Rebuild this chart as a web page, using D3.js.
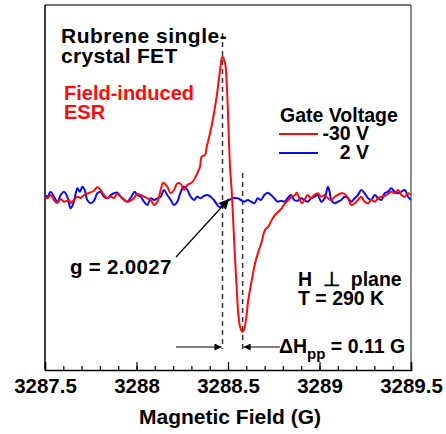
<!DOCTYPE html>
<html><head><meta charset="utf-8">
<script src="https://cdn.jsdelivr.net/npm/d3@7/dist/d3.min.js"></script>
<style>
body{margin:0;background:#fff;}
text{font-family:"Liberation Sans",Arial,sans-serif;font-weight:bold;white-space:pre;}
</style></head>
<body><svg id="c" width="446" height="434"></svg>
<script>
// ---- data ----
const xDomain = [3287.5, 3289.5];
const xMajorTicks = [3287.5, 3288, 3288.5, 3289, 3289.5];
const xTickLabels = ["3287.5", "3288", "3288.5", "3289", "3289.5"];
const xMinorTicks = d3.range(0, 21).map(i => 3287.5 + i * 0.1);
const gPosition = 3288.47;   // field of the positive peak (g = 2.0027)
const minPosition = 3288.58; // field of the negative peak

const redField = [3287.500,3287.513,3287.531,3287.549,3287.567,3287.586,3287.604,3287.631,3287.640,3287.658,3287.677,3287.695,3287.713,3287.740,3287.768,3287.786,3287.804,3287.822,3287.840,3287.859,3287.877,3287.895,3287.914,3287.932,3287.950,3287.968,3287.986,3288.004,3288.023,3288.041,3288.059,3288.078,3288.096,3288.114,3288.132,3288.146,3288.168,3288.187,3288.205,3288.223,3288.242,3288.260,3288.278,3288.296,3288.314,3288.332,3288.347,3288.356,3288.374,3288.384,3288.402,3288.420,3288.438,3288.452,3288.466,3288.470,3288.484,3288.493,3288.502,3288.511,3288.520,3288.529,3288.538,3288.548,3288.556,3288.566,3288.578,3288.587,3288.598,3288.611,3288.630,3288.648,3288.666,3288.684,3288.702,3288.720,3288.739,3288.757,3288.775,3288.793,3288.811,3288.830,3288.848,3288.866,3288.875,3288.890,3288.904,3288.917,3288.936,3288.954,3288.972,3288.990,3289.010,3289.028,3289.046,3289.064,3289.083,3289.101,3289.119,3289.138,3289.156,3289.174,3289.192,3289.210,3289.228,3289.247,3289.265,3289.283,3289.302,3289.320,3289.338,3289.356,3289.374,3289.392,3289.411,3289.429,3289.447,3289.466,3289.484,3289.500];
const redSignal = [1,-0.3,3,-2,-5,-1,-3.7,-2,-5,-2,1.3,0,3,5,7.3,10.7,8,3,0,1.3,0,4,1.3,-1.3,-3.7,-2.7,-0.3,4,3,1.3,-0.3,-2,-7,-3.7,8,15.3,11.3,4.7,8,14.7,14,8,13,14.7,18,24.7,31.3,41.3,43,51.3,64.7,81.3,101.3,121.3,139.7,141.3,134.7,114.7,74.7,31.3,8,-25,-58.7,-92,-115.3,-128.7,-133.7,-132,-122,-102,-82,-65.3,-53.7,-43.7,-32,-28.7,-22,-17,-13.7,-10.3,-5.3,-2,1.3,3,5.3,-0.3,-5.3,-2,3,-0.3,3,4.7,1.3,3,-0.3,-2,1.3,3,4.7,4,-0.3,-7,-5.3,-2,1.3,-3.7,-5.3,-2,-3.7,-0.3,1.3,2,4,6.3,4.7,8,3,1.3,4.7,3];

const blueField = [3287.500,3287.513,3287.531,3287.549,3287.567,3287.586,3287.604,3287.622,3287.640,3287.655,3287.668,3287.677,3287.691,3287.704,3287.717,3287.731,3287.750,3287.768,3287.786,3287.804,3287.822,3287.840,3287.859,3287.877,3287.895,3287.914,3287.932,3287.950,3287.972,3287.990,3288.004,3288.023,3288.041,3288.059,3288.078,3288.096,3288.114,3288.132,3288.150,3288.168,3288.187,3288.205,3288.223,3288.242,3288.260,3288.278,3288.296,3288.314,3288.332,3288.351,3288.369,3288.387,3288.405,3288.423,3288.442,3288.456,3288.473,3288.489,3288.507,3288.526,3288.553,3288.571,3288.589,3288.608,3288.626,3288.644,3288.662,3288.680,3288.698,3288.717,3288.735,3288.753,3288.772,3288.790,3288.808,3288.826,3288.844,3288.862,3288.881,3288.899,3288.917,3288.936,3288.954,3288.972,3288.990,3289.010,3289.028,3289.046,3289.055,3289.064,3289.083,3289.101,3289.119,3289.138,3289.156,3289.174,3289.192,3289.210,3289.228,3289.247,3289.265,3289.283,3289.302,3289.320,3289.338,3289.356,3289.374,3289.392,3289.411,3289.429,3289.447,3289.466,3289.484,3289.500];
const blueSignal = [3,1.3,6.3,1.3,-3.7,3,6.3,1.3,-10.3,-5.3,4.7,9.7,6.3,11.3,8,-2,-5.3,-2.7,4.7,6.3,1.3,-0.3,3,4.7,5.3,1.3,-2,-3.7,1.3,6.3,3,1.3,-3.7,-7,-0.3,-2,-0.3,1.3,8,3,-2,-7,-3.7,6.3,11.3,8,1.3,-2,1.3,-0.3,2,3,1.3,-2,-7,-9,-8,-3.7,-2,-0.3,-0.3,-2,-3.7,-2,-3.7,-5.3,-0.3,-2,3,5.3,3,-0.3,-3.7,-2.7,-3.7,-0.3,3,-2,-2.7,-0.3,-2,-3.7,-0.3,1.3,3,-3.7,-0.3,11.3,6.3,-2,-5.3,-3.7,-2,1.3,-0.3,-3.7,-0.3,3,8,4.7,-0.3,-2,3,-0.3,-2,4.7,6.3,9.7,6.3,4.7,6.3,8,1.3,-2];

const yDomain = [-172, 193]; // arbitrary ESR derivative intensity

// ---- layout ----
const svg = d3.select("#c");
const L = 45, R = 411, T = 5, B = 370;
const x = d3.scaleLinear().domain(xDomain).range([L, R]);
const y = d3.scaleLinear().domain(yDomain).range([B, T]);

const defs = svg.append("defs");
defs.append("marker").attr("id","ah").attr("viewBox","0 0 10 10").attr("refX",10).attr("refY",5)
  .attr("markerWidth",10).attr("markerHeight",7).attr("markerUnits","userSpaceOnUse").attr("orient","auto")
  .append("path").attr("d","M0,0 L10,5 L0,10 Z").attr("fill","#000");
defs.append("marker").attr("id","ahBig").attr("viewBox","0 0 10 10").attr("refX",10).attr("refY",5)
  .attr("markerWidth",16).attr("markerHeight",10).attr("markerUnits","userSpaceOnUse").attr("orient","auto")
  .append("path").attr("d","M0,0 L10,5 L0,10 Z").attr("fill","#000");
defs.append("clipPath").attr("id","clip").append("rect").attr("x",L).attr("y",T).attr("width",R-L).attr("height",B-T);

// frame
svg.append("line").attr("x1",L).attr("x2",R).attr("y1",T).attr("y2",T).attr("stroke","#444").attr("stroke-width",1.5);
svg.append("line").attr("x1",R).attr("x2",R).attr("y1",T).attr("y2",B).attr("stroke","#666").attr("stroke-width",1.5);
svg.append("line").attr("x1",L).attr("x2",L).attr("y1",T).attr("y2",B).attr("stroke","#000").attr("stroke-width",1.5);

// x axis
const ax = svg.append("g").attr("transform",`translate(0,${B})`);
ax.call(d3.axisBottom(x).tickValues(xMinorTicks).tickSize(-4).tickFormat(""));
ax.call(g => g.selectAll(".domain").remove());
const axM = svg.append("g").attr("transform",`translate(0,${B})`)
  .call(d3.axisBottom(x).tickValues(xMajorTicks).tickSize(-8).tickPadding(14)
    .tickFormat((d,i) => xTickLabels[i]));
axM.select(".domain").attr("stroke","#000").attr("stroke-width",1.5);
svg.selectAll(".tick line").attr("stroke","#000").attr("stroke-width",1.2);
axM.selectAll("text").attr("font-size",20.5).attr("font-family",'"Liberation Sans",Arial,sans-serif')
  .attr("font-weight","bold").attr("fill","#000").attr("dy","0").attr("y",23);

svg.append("text").attr("x",(L+R)/2+2).attr("y",424).attr("text-anchor","middle").attr("font-size",21)
  .text("Magnetic Field (G)");

// dashed lines
svg.append("line").attr("x1",x(gPosition)).attr("x2",x(gPosition)).attr("y1",33).attr("y2",349)
  .attr("stroke","#333").attr("stroke-width",1.5).attr("stroke-dasharray","5,4");
svg.append("line").attr("x1",x(minPosition)).attr("x2",x(minPosition)).attr("y1",173).attr("y2",353)
  .attr("stroke","#333").attr("stroke-width",1.5).attr("stroke-dasharray","5,4");

// curves
const line = d3.line().x(d => x(d[0])).y(d => y(d[1])).curve(d3.curveCatmullRom.alpha(0.5));
const plot = svg.append("g").attr("clip-path","url(#clip)");
plot.append("path").datum(blueField.map((f,i)=>[f,blueSignal[i]]))
  .attr("d",line).attr("fill","none").attr("stroke","#0a0af0").attr("stroke-width",2);
plot.append("path").datum(redField.map((f,i)=>[f,redSignal[i]]))
  .attr("d",line).attr("fill","none").attr("stroke","#ff0a0a").attr("stroke-width",2);

// arrows
svg.append("line").attr("x1",176).attr("y1",347).attr("x2",x(gPosition)-1).attr("y2",347)
  .attr("stroke","#000").attr("stroke-width",1.2).attr("marker-end","url(#ah)");
svg.append("line").attr("x1",280).attr("y1",347).attr("x2",x(minPosition)+1).attr("y2",347)
  .attr("stroke","#000").attr("stroke-width",1.2).attr("marker-end","url(#ah)");
svg.append("line").attr("x1",176).attr("y1",257).attr("x2",229).attr("y2",199)
  .attr("stroke","#000").attr("stroke-width",1.2).attr("marker-end","url(#ahBig)");

// texts
svg.append("text").attr("x",61).attr("y",43).attr("font-size",21).attr("letter-spacing",0.5).text("Rubrene single-");
svg.append("text").attr("x",61).attr("y",63).attr("font-size",21).attr("letter-spacing",0.3).text("crystal FET");
svg.append("text").attr("x",64).attr("y",100).attr("font-size",20).attr("fill","#ff0a0a").text("Field-induced");
svg.append("text").attr("x",64).attr("y",119).attr("font-size",20).attr("fill","#ff0a0a").text("ESR");
svg.append("text").attr("x",280).attr("y",122).attr("font-size",19.5).text("Gate Voltage");
svg.append("line").attr("x1",279).attr("x2",318).attr("y1",134).attr("y2",134).attr("stroke","#ff0a0a").attr("stroke-width",2);
svg.append("line").attr("x1",279).attr("x2",318).attr("y1",153).attr("y2",153).attr("stroke","#0a0af0").attr("stroke-width",2);
svg.append("text").attr("x",369).attr("y",140).attr("text-anchor","end").attr("font-size",19.5).text("-30 V");
svg.append("text").attr("x",369).attr("y",159).attr("text-anchor","end").attr("font-size",19.5).text("2 V");
svg.append("text").attr("x",70).attr("y",274).attr("font-size",20.5).attr("letter-spacing",0.3).text("g = 2.0027");
svg.append("text").attr("x",298).attr("y",286).attr("font-size",19.5).text("H  \u22A5  plane");
svg.append("text").attr("x",298).attr("y",305).attr("font-size",19.5).text("T = 290 K");
const dh = svg.append("text").attr("x",279).attr("y",353).attr("font-size",19.5);
dh.append("tspan").text("\u0394H");
dh.append("tspan").attr("font-size",15).attr("dy",6).text("pp");
dh.append("tspan").attr("dy",-6).text(" = 0.11 G");
</script></body></html>
